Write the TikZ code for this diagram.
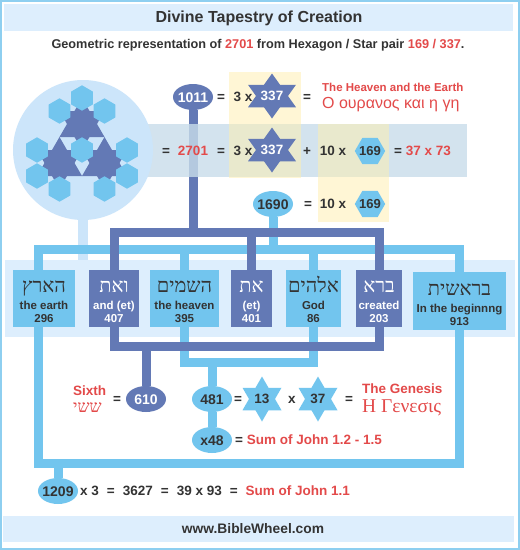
\documentclass[tikz,border=0pt]{standalone}
\usepackage{xcolor}
\usepackage{fontspec}
\usepackage{tikz}
\usetikzlibrary{shapes.geometric}
\setmainfont{Liberation Sans}
\newfontfamily\hebfont[Script=Hebrew]{Liberation Serif}
\newfontfamily\grkserif{Liberation Serif}
\TeXXeTstate=1

\definecolor{darkblue}{HTML}{6379B5}
\definecolor{lightblue}{HTML}{72C5EE}
\definecolor{paleblue}{HTML}{DDEEFD}
\definecolor{circleblue}{HTML}{CCE5FA}
\definecolor{bandblue}{HTML}{C9DDEA}
\definecolor{paleyellow}{HTML}{FFEFAD}
\definecolor{textred}{HTML}{E34A4A}
\definecolor{textgray}{HTML}{333333}
\definecolor{framecol}{HTML}{8ECFF0}

\pgfdeclarelayer{deep}
\pgfdeclarelayer{bg}
\pgfdeclarelayer{lines}
\pgfsetlayers{deep,bg,lines,main}

\newcommand\boxwords[3]{\begin{tabular}{@{}c@{}}\rule{0pt}{22pt}{\hebfont\mdseries\fontsize{20}{20}\selectfont\beginR#1\endR}\\[4pt]#2\\[0pt]#3\end{tabular}}
\newcommand\hebr[1]{{\hebfont\beginR#1\endR}}
\newcommand\inshape[1]{\makebox[0pt]{#1}}

\begin{document}
\begin{tikzpicture}[x=1pt,y=-1pt,
  num/.style={inner sep=0pt,text=textgray,font=\fontsize{13.5}{15}\selectfont\bfseries,text height=9.7pt,text depth=0pt},
  rednum/.style={num,text=textred},
  darkell/.style={ellipse,fill=darkblue,text=white,minimum width=40pt,minimum height=26pt,inner sep=0pt,font=\fontsize{14}{15}\selectfont\bfseries,text height=10pt,text depth=0pt},
  lightell/.style={darkell,fill=lightblue,text=textgray},
  darkstar/.style={circle,minimum size=45pt,inner sep=0pt,text=white,font=\fontsize{13.5}{15}\selectfont\bfseries,text height=9.7pt,text depth=0pt},
  lightstar/.style={darkstar,text=textgray},
  hexcell/.style={circle,minimum size=30pt,inner sep=0pt,text=textgray,font=\fontsize{13}{15}\selectfont\bfseries,text height=9.3pt,text depth=0pt},
  darkbox/.style={rectangle,fill=darkblue,text=white,minimum height=57pt,inner sep=0pt,font=\fontsize{11.5}{13}\selectfont\bfseries},
  lightbox/.style={darkbox,fill=lightblue,text=textgray},
  darkline/.style={draw=darkblue,line width=9pt},
  lightline/.style={draw=lightblue,line width=9pt},
  redtxt/.style={inner sep=0pt,text=textred,anchor=base west}]
\useasboundingbox (0,0) rectangle (520,550);
\draw[framecol,line width=2pt] (1,1) rectangle (519,549);
\fill[paleblue] (4,4) rectangle (513,31);
\fill[paleblue] (3,516) rectangle (514,542);
\node[inner sep=0pt,anchor=base,text=textgray,font=\fontsize{16}{18}\selectfont\bfseries] (title) at (259,22) {Divine Tapestry of Creation};
\node[inner sep=0pt,anchor=base,text=textgray,font=\fontsize{12.7}{14}\selectfont\bfseries] (subtitle) at (258,48) {Geometric representation of \textcolor{textred}{2701} from Hexagon / Star pair \textcolor{textred}{169 / 337}.};
\node[inner sep=0pt,anchor=base,text=textgray,font=\fontsize{13.8}{15}\selectfont\bfseries] (site) at (253,533) {www.BibleWheel.com};

\node[darkell] (e1011) at (193,97) {\inshape{1011}};
\node[num] (eqa) at (221,97) {=};
\node[num] (threea) at (243,97) {3 x};
\node[darkstar] (stara) at (272,96) {\inshape{337}};
\node[num] (eqb) at (307,97) {=};
\node[redtxt,font=\fontsize{11.5}{13}\selectfont\bfseries] (heaventxt) at (322,91) {The Heaven and the Earth};
\node[redtxt,font=\fontsize{16}{18}\selectfont] (heavengrk) at (322,108) {Ο ουρανος και η γη};

\node[num] (eqc) at (166,151) {=};
\node[rednum] (sum2701) at (193,151) {2701};
\node[num] (eqd) at (221,151) {=};
\node[num] (threeb) at (243,151) {3 x};
\node[darkstar] (starb) at (272,150) {\inshape{337}};
\node[num] (plus) at (307,151) {+};
\node[num] (tena) at (333,151) {10 x};
\node[hexcell] (hexa) at (370,151) {\inshape{169}};
\node[num,anchor=west] (result) at (394,151) {= \textcolor{textred}{37 x 73}};

\node[lightell] (e1690) at (273,204) {\inshape{1690}};
\node[num] (eqe) at (308,204) {=};
\node[num] (tenb) at (333,204) {10 x};
\node[hexcell] (hexb) at (370,204) {\inshape{169}};

\node[lightbox,minimum width=62pt] (earth) at (44,298.5) {\boxwords{הארץ}{the earth}{296}};
\node[darkbox,minimum width=50pt] (andet) at (114,298.5) {\boxwords{ואת}{and (et)}{407}};
\node[lightbox,minimum width=69pt] (heaven) at (184.5,298.5) {\boxwords{השמים}{the heaven}{395}};
\node[darkbox,minimum width=41pt] (et) at (251.5,298.5) {\boxwords{את}{(et)}{401}};
\node[lightbox,minimum width=55pt] (god) at (313.5,298.5) {\boxwords{אלהים}{God}{86}};
\node[darkbox,minimum width=46pt] (created) at (379,298.5) {\boxwords{ברא}{created}{203}};
\node[lightbox,minimum width=93pt,minimum height=58pt] (beginning) at (459.5,301) {\boxwords{בראשית}{In the beginnng}{913}};

\node[redtxt,font=\fontsize{13.5}{15}\selectfont\bfseries] (sixth) at (73,395) {Sixth};
\node[redtxt,font=\fontsize{17}{18}\selectfont] (shishi) at (73,412) {\hebr{ששי}};
\node[num] (eqf) at (117,399) {=};
\node[darkell] (e610) at (146,399) {\inshape{610}};
\node[lightell] (e481) at (212,399) {\inshape{481}};
\node[num] (eqg) at (238,399) {=};
\node[lightstar] (star13) at (262,399) {\inshape{13}};
\node[num] (timesx) at (292,399) {x};
\node[lightstar] (star37) at (318,399) {\inshape{37}};
\node[num] (eqh) at (349,399) {=};
\node[redtxt,font=\fontsize{13.5}{15}\selectfont\bfseries] (genesis) at (362,393) {The Genesis};
\node[redtxt,font=\grkserif\fontsize{19.5}{21}\selectfont] (genesisgrk) at (362,412) {Η Γενεσις};
\node[lightell] (ex48) at (212,440) {\inshape{x48}};
\node[num,anchor=west] (johnb) at (235,440) {= \textcolor{textred}{Sum of John 1.2 - 1.5}};
\node[lightell] (e1209) at (58,491) {\inshape{1209}};
\node[num,anchor=west] (johna) at (80,491) {x 3\hspace{8pt}=\hspace{8pt}3627\hspace{8pt}=\hspace{8pt}39 x 93\hspace{8pt}=\hspace{8pt}\textcolor{textred}{Sum of John 1.1}};

\coordinate (darktop) at (0,232.5);
\coordinate (lighttop) at (0,249);
\coordinate (darklow) at (0,346.5);
\coordinate (lightlow) at (0,362);
\coordinate (framelow) at (0,463);
\coordinate (earthtop) at ([xshift=-6pt]earth.north);
\coordinate (earthbot) at ([xshift=-6pt]earth.south);

\begin{pgfonlayer}{deep}
\fill[white] (0,0) rectangle (520,550);
\draw[darkline] (e1011) -- (e1011 |- darktop);
\end{pgfonlayer}

\begin{pgfonlayer}{bg}
\fill[bandblue,opacity=.8] (100,124) rectangle (467,177);
\fill[paleyellow,opacity=.5] (229,72) rectangle (301,178);
\fill[paleyellow,opacity=.5] (318,124) rectangle (389,222);
\fill[paleblue] (5,260) rectangle (515,337);
\fill[circleblue] (78,200) rectangle (88,260);
\fill[circleblue] (83,150) circle (70pt);
\foreach \sx/\sy in {82/124,59.5/163,104.5/163}{
  \fill[darkblue] (\sx,\sy) +(90:26) -- +(210:26) -- +(330:26) -- cycle;
  \fill[darkblue] (\sx,\sy) +(270:26) -- +(30:26) -- +(150:26) -- cycle;
}
\foreach \hx/\hy in {82/98,59.5/111,104.5/111,82/150,37/150,37/176,59.5/189,127/150,127/176,104.5/189}
  \fill[lightblue] (\hx,\hy) +(30:12.7) -- +(90:12.7) -- +(150:12.7) -- +(210:12.7) -- +(270:12.7) -- +(330:12.7) -- cycle;
\end{pgfonlayer}

\begin{pgfonlayer}{lines}
\foreach \n/\c/\w in {stara/darkblue/24,starb/darkblue/24,star13/lightblue/19.5,star37/lightblue/19.5}{
  \fill[\c] (\n) +(0,-22.5) -- +(-\w,11.25) -- +(\w,11.25) -- cycle;
  \fill[\c] (\n) +(0,22.5) -- +(-\w,-11.25) -- +(\w,-11.25) -- cycle;
}
\foreach \n in {hexa,hexb}
  \fill[lightblue] (\n) +(0:15.2) -- +(60:15.2) -- +(120:15.2) -- +(180:15.2) -- +(240:15.2) -- +(300:15.2) -- cycle;
\draw[lightline] (earthtop) -- (earthtop |- lighttop) -| (beginning.north);
\draw[lightline] (heaven.north) -- (heaven.north |- lighttop);
\draw[lightline] (god.north) -- (god.north |- lighttop);
\draw[lightline] (e1690) -- (e1690 |- lighttop);
\draw[lightline] (heaven.south) -- (heaven.south |- lightlow) -| (god.south);
\draw[lightline] (e481) -- (e481 |- lightlow);
\draw[lightline] (e481) -- (ex48);
\draw[lightline] (earthbot) -- (earthbot |- framelow) -| (beginning.south);
\draw[lightline] (e1209) -- (e1209 |- framelow);
\draw[darkline] (andet.north) -- (andet.north |- darktop) -| (created.north);
\draw[darkline] (et.north) -- (et.north |- darktop);
\draw[darkline] (andet.south) -- (andet.south |- darklow) -| (created.south);
\draw[darkline] (e610) -- (e610 |- darklow);
\end{pgfonlayer}
\end{tikzpicture}
\end{document}
